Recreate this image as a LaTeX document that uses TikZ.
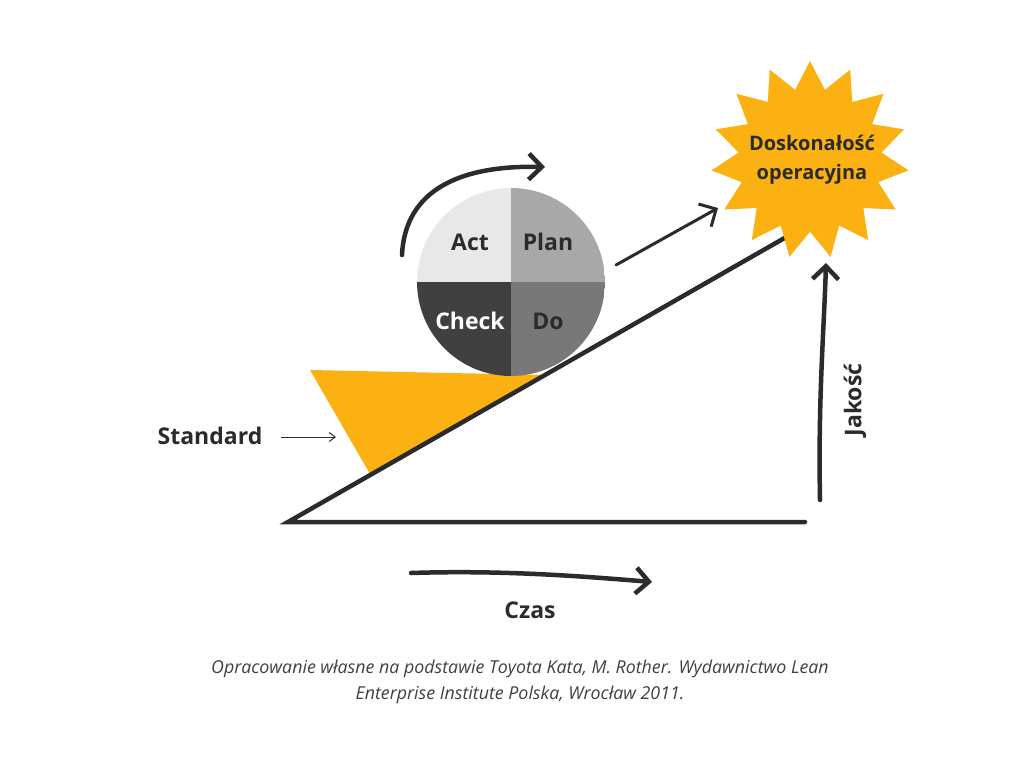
\documentclass[tikz,border=0pt]{standalone}
\usepackage{fontspec}
\setmainfont{Open Sans}
\usetikzlibrary{shapes.geometric,arrows.meta}
\definecolor{ink}{HTML}{2B2B2B}
\definecolor{gold}{HTML}{FBB111}
\definecolor{qa}{HTML}{E8E8E8}
\definecolor{qp}{HTML}{A8A8A8}
\definecolor{qc}{HTML}{404040}
\definecolor{qd}{HTML}{787878}
\begin{document}
\begin{tikzpicture}[x=1pt,y=-1pt,
  thickl/.style={draw=ink,line width=4.5pt,line cap=round},
  head/.style={-{Straight Barb[length=13pt,width=26pt]}},
  lbl/.style={font=\bfseries\fontsize{23}{26}\selectfont,text=ink}]
\useasboundingbox[fill=white] (0,0) rectangle (1024,768);
% wedge
\fill[gold] (310,370) -- (545,375) -- (370,474) -- cycle;
% triangle
\coordinate (A) at (288,522); \coordinate (B) at (805,522); \coordinate (C) at (795,232);
\draw[thickl] (B) -- (A) -- (C);
% circle
\begin{scope}
\clip (511,282) circle[radius=94];
\fill[qa] (417,188) rectangle (511,282);
\fill[qp] (511,188) rectangle (605,282);
\fill[qc] (417,282) rectangle (511,376);
\fill[qd] (511,282) rectangle (605,376);
\end{scope}
\node[lbl] (act) at (470,242) {Act};
\node[lbl] (plan) at (548,242) {Plan};
\node[lbl,text=white] (check) at (470,321) {Check};
\node[lbl] (do) at (548,321) {Do};
% curved arrow
\coordinate (c1) at (402,255); \coordinate (c2) at (545,167);
\draw[thickl,head] (c1) .. controls (405,190) and (460,165) .. (c2);
% star
\node[star,star points=15,star point ratio=1.38,minimum size=198pt,fill=gold,inner sep=0] (star) at (810,160) {};
\node[font=\bfseries\fontsize{20}{29}\selectfont,text=ink,align=center] (dosk) at (812,160) {Doskonałość\\operacyjna};
% arrow to star
\coordinate (p1) at (616,265); \coordinate (p2) at (718,208);
\draw[draw=ink,line width=3pt,line cap=round,head] (p1) -- (p2);
% Jakosc
\coordinate (j1) at (820,500); \coordinate (j2) at (826,263);
\draw[thickl,head] (j1) .. controls (818,400) and (824,330) .. (j2);
\node[lbl,rotate=90] (jak) at (855,400) {Jakość};
% Czas
\coordinate (z1) at (411,573); \coordinate (z2) at (652,582);
\draw[thickl,head] (z1) .. controls (500,570) and (580,576) .. (z2);
\node[lbl] (czas) at (530,610) {Czas};
% Standard
\node[lbl] (std) at (210,436) {Standard};
\coordinate (s1) at (281,437); \coordinate (s2) at (336,437);
\draw[ink,line width=1pt,-{Straight Barb[length=6pt,width=9pt]}] (s1) -- (s2);
% caption
\node[font=\itshape\fontsize{17.8}{26}\selectfont,text=black!75,align=center] (cap) at (520,682)
 {Opracowanie własne na podstawie Toyota Kata, M. Rother. Wydawnictwo Lean\\Enterprise Institute Polska, Wrocław 2011.};
\end{tikzpicture}
\end{document}
